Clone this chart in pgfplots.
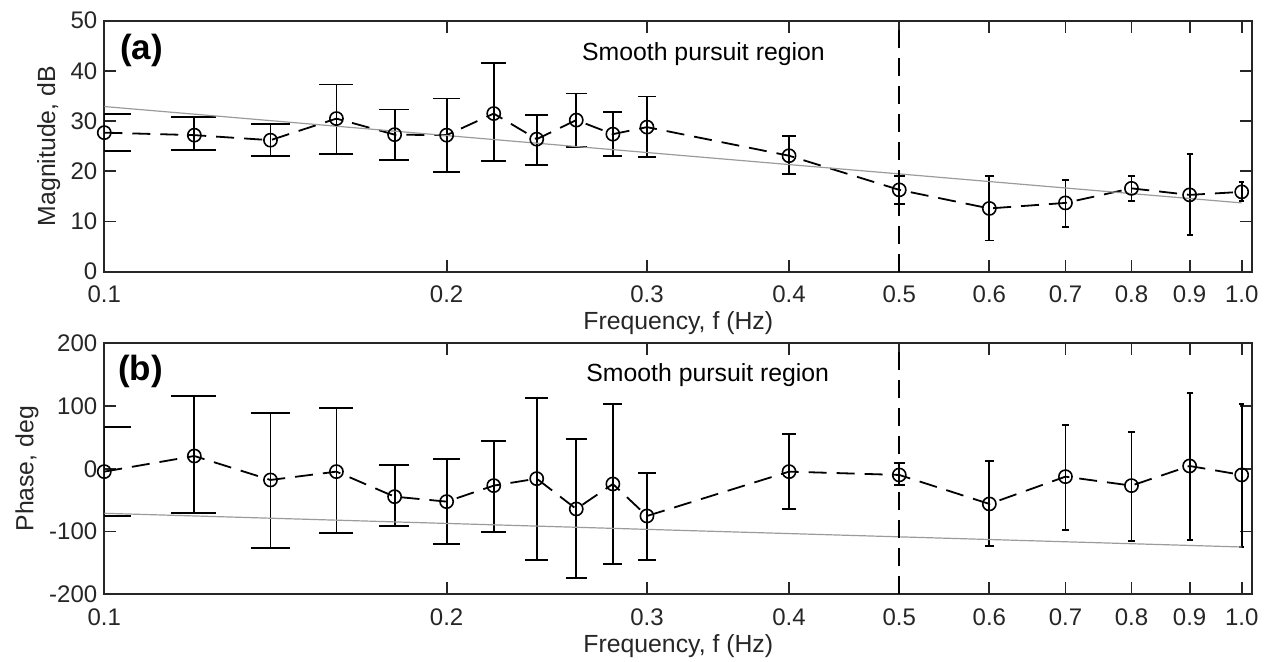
\documentclass[border=0pt]{standalone}
\usepackage{fontspec}
\setmainfont{Liberation Sans}
\usepackage{pgfplots}
\pgfplotsset{compat=1.18}
\usepackage{pgfplotstable}

\definecolor{axgray}{RGB}{38,38,38}
\definecolor{fitgray}{RGB}{155,155,155}

\pgfplotstableread{
x    y     hi    lo
0.10 27.7  31.4  24.0
0.12 27.2  30.8  24.2
0.14 26.2  29.4  23.0
0.16 30.5  37.3  23.5
0.18 27.3  32.3  22.3
0.20 27.2  34.5  19.9
0.22 31.5  41.5  22.0
0.24 26.4  31.2  21.3
0.26 30.2  35.5  24.8
0.28 27.4  31.8  23.1
0.30 28.8  34.9  22.8
0.40 23.1  27.0  19.4
0.50 16.3  19.1  13.5
0.60 12.6  19.1  6.2
0.70 13.7  18.3  8.9
0.80 16.6  19.1  14.1
0.90 15.3  23.4  7.3
1.00 15.9  17.9  14.1
}\magdata

\pgfplotstableread{
x    y      hi     lo
0.10 -4.5   66.0   -74.6
0.12 20.4   116.0  -69.9
0.14 -17.8  88.4   -125.6
0.16 -4.5   96.4   -101.7
0.18 -44.4  5.6    -91.6
0.20 -52.3  16.2   -119.3
0.22 -26.8  44.4   -100.7
0.24 -15.7  112.9  -145.3
0.26 -64.0  47.5   -174.5
0.28 -24.2  103.3  -151.1
0.30 -75.2  -7.2   -145.3
0.40 -4.5   56.0   -64.5
0.50 -9.8   9.8    -25.8
0.60 -56.0  12.5   -122.4
0.70 -12.5  69.9   -98.0
0.80 -26.8  59.2   -115.5
0.90 4.5    120.3  -113.4
1.00 -9.8   103.3  -124.6
}\phasedata

\begin{document}
\begin{tikzpicture}
\path[use as bounding box] (-52.15pt,-195.15pt) rectangle (582.85pt,135.85pt);

% ---------------- (a) ----------------
\begin{axis}[at={(0,0)}, anchor=south west,
  scale only axis, width=574pt, height=125.5pt,
  xmode=log, xmin=0.1, xmax=1.0217,
  xtick={0.1,0.2,0.3,0.4,0.5,0.6,0.7,0.8,0.9,1.0},
  xticklabels={0.1,0.2,0.3,0.4,0.5,0.6,0.7,0.8,0.9,1.0},
  minor xtick={}, 
  tick align=inside, major tick length=6pt,
  axis line style={axgray, line width=0.9pt},
  every tick/.append style={axgray, line width=0.9pt},
  xticklabel style={font=\fontsize{12}{14}\selectfont, text=axgray, yshift=-3.5pt},
  yticklabel style={font=\fontsize{12}{14}\selectfont, text=axgray},
  xlabel={Frequency, f (Hz)},
  xlabel style={font=\fontsize{12.4}{14}\selectfont, text=axgray, at={(axis description cs:0.5,0)}, anchor=base, yshift=-29pt},
  ymin=0, ymax=50, ytick={0,10,20,30,40,50}, yticklabels={0,10,20,30,40,50},
  ylabel={Magnitude, dB},
  ylabel style={font=\fontsize{12.4}{14}\selectfont, text=axgray, at={(axis description cs:-0.0429,0.5)}, anchor=base},
]
\addplot[black, line width=0.9pt, dash pattern=on 9pt off 5pt,
    mark=o, mark size=3.3pt, mark options={solid, line width=0.8pt},
    error bars/.cd, y dir=both, y explicit, error mark=none,
    error bar style={solid, line width=0.9pt}]
  table[x=x, y=y,
  y error plus expr=\thisrow{hi}-\thisrow{y},
  y error minus expr=\thisrow{y}-\thisrow{lo}] {\magdata};
\addplot[black, line width=0.9pt, solid, unbounded coords=jump] coordinates {
(0.0945,31.4)(0.1055,31.4)(0.1,nan)(0.0945,24.0)(0.1055,24.0)(0.1,nan)
(0.1145,30.8)(0.1255,30.8)(0.12,nan)(0.1145,24.2)(0.1255,24.2)(0.12,nan)
(0.1345,29.4)(0.1455,29.4)(0.14,nan)(0.1345,23.0)(0.1455,23.0)(0.14,nan)
(0.1545,37.3)(0.1655,37.3)(0.16,nan)(0.1545,23.5)(0.1655,23.5)(0.16,nan)
(0.1745,32.3)(0.1855,32.3)(0.18,nan)(0.1745,22.3)(0.1855,22.3)(0.18,nan)
(0.1945,34.5)(0.2055,34.5)(0.2,nan)(0.1945,19.9)(0.2055,19.9)(0.2,nan)
(0.2145,41.5)(0.2255,41.5)(0.22,nan)(0.2145,22.0)(0.2255,22.0)(0.22,nan)
(0.2345,31.2)(0.2455,31.2)(0.24,nan)(0.2345,21.3)(0.2455,21.3)(0.24,nan)
(0.2545,35.5)(0.2655,35.5)(0.26,nan)(0.2545,24.8)(0.2655,24.8)(0.26,nan)
(0.2745,31.8)(0.2855,31.8)(0.28,nan)(0.2745,23.1)(0.2855,23.1)(0.28,nan)
(0.2945,34.9)(0.3055,34.9)(0.3,nan)(0.2945,22.8)(0.3055,22.8)(0.3,nan)
(0.3945,27.0)(0.4055,27.0)(0.4,nan)(0.3945,19.4)(0.4055,19.4)(0.4,nan)
(0.4945,19.1)(0.5055,19.1)(0.5,nan)(0.4945,13.5)(0.5055,13.5)(0.5,nan)
(0.5945,19.1)(0.6055,19.1)(0.6,nan)(0.5945,6.2)(0.6055,6.2)(0.6,nan)
(0.6945,18.3)(0.7055,18.3)(0.7,nan)(0.6945,8.9)(0.7055,8.9)(0.7,nan)
(0.7945,19.1)(0.8055,19.1)(0.8,nan)(0.7945,14.1)(0.8055,14.1)(0.8,nan)
(0.8945,23.4)(0.9055,23.4)(0.9,nan)(0.8945,7.3)(0.9055,7.3)(0.9,nan)
(0.9945,17.9)(1.0055,17.9)(1.0,nan)(0.9945,14.1)(1.0055,14.1)
};
\addplot[fitgray, line width=0.6pt] coordinates {(0.1,32.9) (1.0,13.7)};
\addplot[black, line width=0.9pt, dash pattern=on 9pt off 5pt] coordinates {(0.5,0) (0.5,50)};
\node[anchor=base west, font=\fontsize{17.5}{20}\selectfont\bfseries, inner sep=0pt] at (axis cs:0.1032,42.2) {(a)};
\node[anchor=base west, font=\fontsize{12.4}{14}\selectfont, inner sep=0pt] at (axis cs:0.2629,42.0) {Smooth pursuit region};
\end{axis}

% ---------------- (b) ----------------
\begin{axis}[at={(0,-161.3pt)}, anchor=south west,
  scale only axis, width=574pt, height=125.5pt,
  xmode=log, xmin=0.1, xmax=1.0217,
  xtick={0.1,0.2,0.3,0.4,0.5,0.6,0.7,0.8,0.9,1.0},
  xticklabels={0.1,0.2,0.3,0.4,0.5,0.6,0.7,0.8,0.9,1.0},
  minor xtick={},
  tick align=inside, major tick length=6pt,
  axis line style={axgray, line width=0.9pt},
  every tick/.append style={axgray, line width=0.9pt},
  xticklabel style={font=\fontsize{12}{14}\selectfont, text=axgray, yshift=-3.5pt},
  yticklabel style={font=\fontsize{12}{14}\selectfont, text=axgray},
  xlabel={Frequency, f (Hz)},
  xlabel style={font=\fontsize{12.4}{14}\selectfont, text=axgray, at={(axis description cs:0.5,0)}, anchor=base, yshift=-29pt},
  ymin=-200, ymax=200, ytick={-200,-100,0,100,200}, yticklabels={-200,-100,0,100,200},
  ylabel={Phase, deg},
  ylabel style={font=\fontsize{12.4}{14}\selectfont, text=axgray, at={(axis description cs:-0.0618,0.5)}, anchor=base},
]
\addplot[black, line width=0.9pt, dash pattern=on 9pt off 5pt,
    mark=o, mark size=3.3pt, mark options={solid, line width=0.8pt},
    error bars/.cd, y dir=both, y explicit, error mark=none,
    error bar style={solid, line width=0.9pt}]
  table[x=x, y=y,
  y error plus expr=\thisrow{hi}-\thisrow{y},
  y error minus expr=\thisrow{y}-\thisrow{lo}] {\phasedata};
\addplot[black, line width=0.9pt, solid, unbounded coords=jump] coordinates {
(0.0945,66.0)(0.1055,66.0)(0.1,nan)(0.0945,-74.6)(0.1055,-74.6)(0.1,nan)
(0.1145,116.0)(0.1255,116.0)(0.12,nan)(0.1145,-69.9)(0.1255,-69.9)(0.12,nan)
(0.1345,88.4)(0.1455,88.4)(0.14,nan)(0.1345,-125.6)(0.1455,-125.6)(0.14,nan)
(0.1545,96.4)(0.1655,96.4)(0.16,nan)(0.1545,-101.7)(0.1655,-101.7)(0.16,nan)
(0.1745,5.6)(0.1855,5.6)(0.18,nan)(0.1745,-91.6)(0.1855,-91.6)(0.18,nan)
(0.1945,16.2)(0.2055,16.2)(0.2,nan)(0.1945,-119.3)(0.2055,-119.3)(0.2,nan)
(0.2145,44.4)(0.2255,44.4)(0.22,nan)(0.2145,-100.7)(0.2255,-100.7)(0.22,nan)
(0.2345,112.9)(0.2455,112.9)(0.24,nan)(0.2345,-145.3)(0.2455,-145.3)(0.24,nan)
(0.2545,47.5)(0.2655,47.5)(0.26,nan)(0.2545,-174.5)(0.2655,-174.5)(0.26,nan)
(0.2745,103.3)(0.2855,103.3)(0.28,nan)(0.2745,-151.1)(0.2855,-151.1)(0.28,nan)
(0.2945,-7.2)(0.3055,-7.2)(0.3,nan)(0.2945,-145.3)(0.3055,-145.3)(0.3,nan)
(0.3945,56.0)(0.4055,56.0)(0.4,nan)(0.3945,-64.5)(0.4055,-64.5)(0.4,nan)
(0.4945,9.8)(0.5055,9.8)(0.5,nan)(0.4945,-25.8)(0.5055,-25.8)(0.5,nan)
(0.5945,12.5)(0.6055,12.5)(0.6,nan)(0.5945,-122.4)(0.6055,-122.4)(0.6,nan)
(0.6945,69.9)(0.7055,69.9)(0.7,nan)(0.6945,-98.0)(0.7055,-98.0)(0.7,nan)
(0.7945,59.2)(0.8055,59.2)(0.8,nan)(0.7945,-115.5)(0.8055,-115.5)(0.8,nan)
(0.8945,120.3)(0.9055,120.3)(0.9,nan)(0.8945,-113.4)(0.9055,-113.4)(0.9,nan)
(0.9945,103.3)(1.0055,103.3)(1.0,nan)(0.9945,-124.6)(1.0055,-124.6)
};
\addplot[fitgray, line width=0.6pt] coordinates {(0.1,-70.9) (1.0,-124.6)};
\addplot[black, line width=0.9pt, dash pattern=on 9pt off 5pt] coordinates {(0.5,-200) (0.5,200)};
\node[anchor=base west, font=\fontsize{17.5}{20}\selectfont\bfseries, inner sep=0pt] at (axis cs:0.1028,141.5) {(b)};
\node[anchor=base west, font=\fontsize{12.4}{14}\selectfont, inner sep=0pt] at (axis cs:0.2652,139.9) {Smooth pursuit region};
\end{axis}
\end{tikzpicture}
\end{document}
